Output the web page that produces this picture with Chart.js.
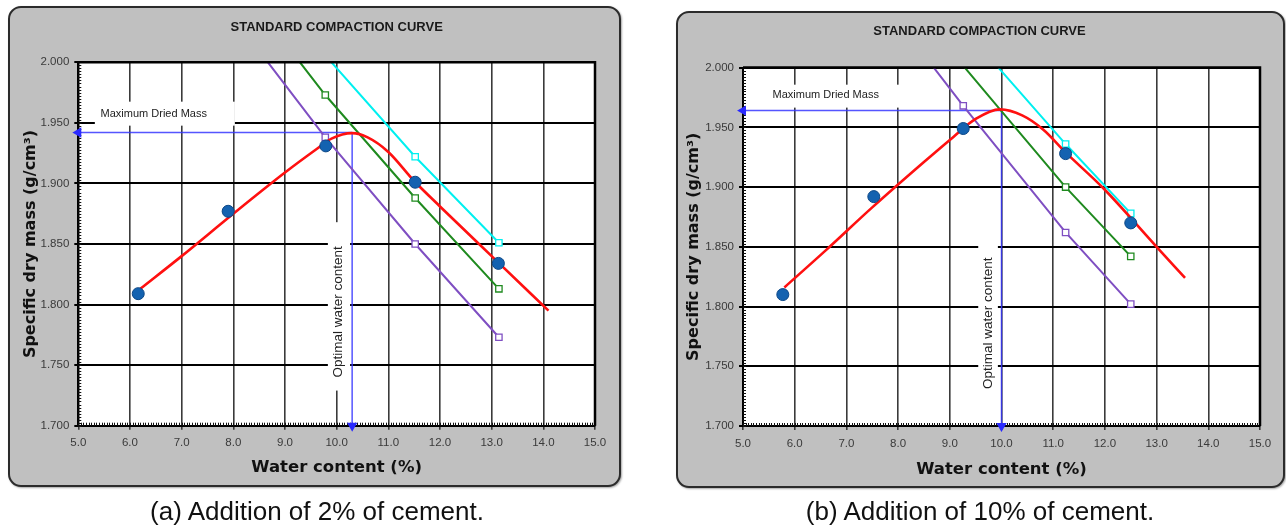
<!DOCTYPE html>
<html><head><meta charset="utf-8">
<script src="https://cdn.jsdelivr.net/npm/chart.js@4/dist/chart.umd.min.js"></script>
<style>
html,body{margin:0;padding:0;background:#fff;width:1286px;height:527px;overflow:hidden;position:relative;font-family:"Liberation Sans",Arial,sans-serif;}
.panel{position:absolute;background:#c0c0c0;border:2px solid #2b2b2b;border-radius:13px;box-sizing:border-box;box-shadow:1px 1px 2px rgba(0,0,0,0.35);}
#pa{left:8px;top:6px;width:613px;height:481px;}
#pb{left:676px;top:11px;width:609px;height:477px;}
.wrap{position:absolute;top:0;width:643px;height:495px;}
#wa{left:0}
#wb{left:643px}
.cap{position:absolute;top:494px;font-size:26px;line-height:34px;text-align:center;width:500px;color:#111;white-space:nowrap}
#ca{left:67px}
#cb{left:730px}
</style></head>
<body>
<div class="panel" id="pa"></div>
<div class="panel" id="pb"></div>
<div class="wrap" id="wa"><canvas id="chartA"></canvas></div>
<div class="wrap" id="wb"><canvas id="chartB"></canvas></div>
<div class="cap" id="ca">(a) Addition of 2% of cement.</div>
<div class="cap" id="cb">(b) Addition of 10% of cement.</div>
<script>
// ---------- tick labels ----------
const xTickValues = [5, 6, 7, 8, 9, 10, 11, 12, 13, 14, 15];
const yTickValues = [1.70, 1.75, 1.80, 1.85, 1.90, 1.95, 2.00];

// ---------- (a) 2% cement ----------
const aMeasuredX = [6.16, 7.90, 9.79, 11.52, 13.13];
const aMeasuredY = [1.809, 1.877, 1.931, 1.901, 1.834];
const aCurveX = [6.20, 7.00, 8.00, 9.00, 9.60, 9.90, 10.30, 10.60, 11.00, 11.50, 12.00, 13.00, 14.10];
const aCurveY = [1.813, 1.840, 1.875, 1.909, 1.928, 1.937, 1.9415, 1.938, 1.926, 1.902, 1.881, 1.840, 1.795];
const aPurpleX = [8.67, 9.78, 11.52, 13.14];
const aPurpleY = [2.000, 1.938, 1.850, 1.773];
const aGreenX = [9.29, 9.78, 11.52, 13.14];
const aGreenY = [2.000, 1.973, 1.888, 1.813];
const aCyanX = [9.90, 11.52, 13.14];
const aCyanY = [2.000, 1.922, 1.851];
const aOptimum = [10.30, 1.942]; // optimal water content, maximum dried mass

// ---------- (b) 10% cement ----------
const bMeasuredX = [5.77, 7.53, 9.26, 11.24, 12.50];
const bMeasuredY = [1.810, 1.892, 1.949, 1.928, 1.870];
const bCurveX = [5.80, 6.60, 7.50, 8.50, 9.07, 9.50, 9.97, 10.40, 10.81, 11.24, 11.97, 13.00, 13.55];
const bCurveY = [1.816, 1.847, 1.883, 1.921, 1.942, 1.957, 1.965, 1.960, 1.948, 1.929, 1.899, 1.850, 1.824];
const bPurpleX = [8.69, 9.26, 11.24, 12.50];
const bPurpleY = [2.000, 1.968, 1.862, 1.802];
const bGreenX = [9.29, 9.97, 11.24, 12.50];
const bGreenY = [2.000, 1.965, 1.900, 1.842];
const bGreenMarker = [false, false, true, true];
const bCyanX = [9.94, 11.24, 12.50];
const bCyanY = [2.000, 1.936, 1.878];
const bOptimum = [10.00, 1.964];

const SANS = '"Liberation Sans",Arial,sans-serif';
const zip = (xs, ys) => xs.map((x, i) => ({x, y: ys[i]}));

const plotArea = {
  id: 'plotArea',
  beforeDraw(chart) {
    const {ctx, chartArea: a} = chart;
    ctx.save(); ctx.fillStyle = '#fff';
    ctx.fillRect(a.left, a.top, a.right - a.left, a.bottom - a.top);
    ctx.restore();
  },
  beforeDatasetsDraw(chart, args, opts) {
    const {ctx, chartArea: a, scales: {x, y}} = chart;
    ctx.save();
    // minor ticks inside left and bottom axes
    ctx.strokeStyle = '#111'; ctx.lineWidth = 1; ctx.beginPath();
    for (let v = x.min; v <= x.max + 1e-9; v += 0.05) {
      const px = Math.round(x.getPixelForValue(v)) + 0.5;
      ctx.moveTo(px, a.bottom); ctx.lineTo(px, a.bottom - 3);
    }
    for (let v = y.min; v <= y.max + 1e-9; v += 0.0025) {
      const py = Math.round(y.getPixelForValue(v)) + 0.5;
      ctx.moveTo(a.left, py); ctx.lineTo(a.left + 3, py);
    }
    ctx.stroke();
    // annotation boxes
    (opts.notes || []).forEach(n => {
      const x0 = x.getPixelForValue(n.box[0]), x1 = x.getPixelForValue(n.box[1]);
      const y0 = y.getPixelForValue(n.box[2]), y1 = y.getPixelForValue(n.box[3]);
      ctx.fillStyle = '#fff';
      ctx.fillRect(Math.min(x0, x1), Math.min(y0, y1), Math.abs(x1 - x0), Math.abs(y1 - y0));
      ctx.save();
      ctx.translate(x.getPixelForValue(n.at[0]), y.getPixelForValue(n.at[1]));
      ctx.rotate(n.rot * Math.PI / 180);
      ctx.fillStyle = '#222'; ctx.font = n.font;
      ctx.textAlign = 'center'; ctx.textBaseline = 'middle';
      ctx.fillText(n.text, 0, 0);
      ctx.restore();
    });
    ctx.restore();
  },
  afterDraw(chart) {
    const {ctx, chartArea: a} = chart;
    ctx.save(); ctx.strokeStyle = '#000'; ctx.lineWidth = 2.5;
    ctx.beginPath();
    ctx.moveTo(a.left, a.top); ctx.lineTo(a.right, a.top); ctx.lineTo(a.right, a.bottom);
    ctx.stroke(); ctx.restore();
  }
};

function satLine(label, xs, ys, color, markers, order) {
  return {
    label, data: zip(xs, ys), showLine: true, borderColor: color, borderWidth: 2,
    pointStyle: 'rect', pointRadius: xs.map((_, i) => (markers ? markers[i] : i > 0) ? 4.5 : 0),
    pointBackgroundColor: '#fff', pointBorderColor: color, pointBorderWidth: 1.3, order
  };
}

function makeChart(id, d, L) {
  return new Chart(document.getElementById(id), {
    type: 'scatter',
    data: {
      datasets: [
        {label: 'Measured', data: zip(d.mx, d.my), showLine: false, pointStyle: 'circle', pointRadius: 6,
         pointBackgroundColor: '#1462b0', pointBorderColor: '#0b4787', pointBorderWidth: 1, order: 0},
        {label: 'Compaction curve', data: zip(d.cx, d.cy), showLine: true, borderColor: '#ff1010', borderWidth: 2.6,
         pointRadius: 0, cubicInterpolationMode: 'monotone', order: 1},
        satLine('Cyan', d.cyx, d.cyy, '#00f0f0', null, 2),
        satLine('Green', d.gx, d.gy, '#1f8a1f', d.gm, 3),
        satLine('Purple', d.px, d.py, '#7f4fc2', null, 4),
        {label: 'Maximum dried mass', data: [{x: d.opt[0], y: d.opt[1]}, {x: xTickValues[0], y: d.opt[1]}],
         showLine: true, borderColor: 'rgba(55,55,255,0.85)', borderWidth: 1.5, pointStyle: 'triangle',
         pointRadius: [0, 4.5], pointRotation: [0, -90], pointBackgroundColor: '#2a2aff', pointBorderColor: '#2a2aff',
         clip: false, order: 5},
        {label: 'Optimal water content', data: [{x: d.opt[0], y: d.opt[1]}, {x: d.opt[0], y: yTickValues[0]}],
         showLine: true, borderColor: 'rgba(55,55,255,0.85)', borderWidth: 1.5, pointStyle: 'triangle',
         pointRadius: [0, 4.5], pointRotation: [0, 180], pointBackgroundColor: '#2a2aff', pointBorderColor: '#2a2aff',
         clip: false, order: 5}
      ]
    },
    options: {
      responsive: true, maintainAspectRatio: false, animation: false, events: [],
      layout: {padding: {left: L.padL, right: L.padR, top: 0, bottom: L.padB}},
      plugins: {
        legend: {display: false}, tooltip: {enabled: false},
        title: {display: true, text: 'STANDARD COMPACTION CURVE', fullSize: L.titleFull, color: '#1a1a1a',
                font: {family: SANS, size: 13, weight: 'bold'}, padding: {top: L.tPadT, bottom: L.tPadB}},
        plotArea: {notes: L.notes}
      },
      scales: {
        x: {
          type: 'linear', min: xTickValues[0], max: xTickValues[xTickValues.length - 1],
          afterBuildTicks: s => { s.ticks = xTickValues.map(v => ({value: v})); },
          afterFit: s => { s.height = L.xAxisH; s.paddingLeft = 0; s.paddingRight = 0; },
          ticks: {callback: v => Number(v).toFixed(1), color: '#3a3a3a', font: {family: SANS, size: 11.5},
                  padding: L.xTickPad, maxRotation: 0, autoSkip: false},
          grid: {color: '#3a3a3a', lineWidth: 1.6, tickLength: 4},
          border: {color: '#000', width: 2},
          title: {display: true, text: 'Water content (%)', color: '#111',
                  font: {family: '"DejaVu Sans",sans-serif', size: 16.5, weight: 'bold'}, padding: {top: 0, bottom: 0}}
        },
        y: {
          type: 'linear', min: yTickValues[0], max: yTickValues[yTickValues.length - 1],
          afterBuildTicks: s => { s.ticks = yTickValues.map(v => ({value: v})); },
          afterFit: s => { s.width = L.yAxisW; s.paddingTop = 0; s.paddingBottom = 0; },
          ticks: {callback: v => Number(v).toFixed(3), color: '#3a3a3a', font: {family: SANS, size: 11.5},
                  padding: 5, autoSkip: false},
          grid: {color: '#000', lineWidth: 2, tickLength: 4},
          border: {color: '#000', width: 2},
          title: {display: true, text: 'Specific dry mass (g/cm³)', color: '#111',
                  font: {family: '"DejaVu Sans",sans-serif', size: 16, weight: 'bold'}, padding: {top: L.yTitlePad, bottom: 0}}
        }
      }
    },
    plugins: [plotArea]
  });
}

makeChart('chartA',
  {mx: aMeasuredX, my: aMeasuredY, cx: aCurveX, cy: aCurveY, px: aPurpleX, py: aPurpleY,
   gx: aGreenX, gy: aGreenY, gm: null, cyx: aCyanX, cyy: aCyanY, opt: aOptimum},
  {padL: 12, yAxisW: 66.3, yTitlePad: 9.4, padR: 48, padB: 17.4, xAxisH: 51.9, xTickPad: 6,
   tPadT: 20, tPadB: 26.7, titleFull: false,
   notes: [
     {text: 'Maximum Dried Mass', box: [5.32, 8.03, 1.9675, 1.9477], at: [6.46, 1.957], rot: 0, font: '11px ' + SANS},
     {text: 'Optimal water content', box: [9.83, 10.26, 1.868, 1.729], at: [10.04, 1.794], rot: -90, font: '13.5px ' + SANS}
   ]});

makeChart('chartB',
  {mx: bMeasuredX, my: bMeasuredY, cx: bCurveX, cy: bCurveY, px: bPurpleX, py: bPurpleY,
   gx: bGreenX, gy: bGreenY, gm: bGreenMarker, cyx: bCyanX, cyy: bCyanY, opt: bOptimum},
  {padL: 56, yAxisW: 44, yTitlePad: -15.1, padR: 26, padB: 15.4, xAxisH: 53.6, xTickPad: 6.5,
   tPadT: 24, tPadB: 28, titleFull: true,
   notes: [
     {text: 'Maximum Dried Mass', box: [5.33, 8.12, 1.9857, 1.9665], at: [6.60, 1.9768], rot: 0, font: '11px ' + SANS},
     {text: 'Optimal water content', box: [9.55, 9.93, 1.856, 1.722], at: [9.74, 1.786], rot: -90, font: '13.5px ' + SANS}
   ]});
</script>
</body></html>
